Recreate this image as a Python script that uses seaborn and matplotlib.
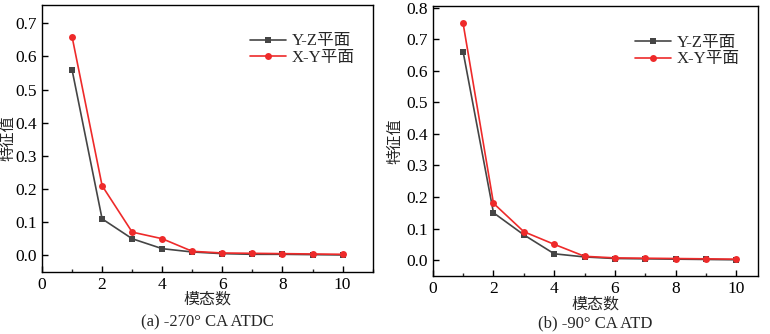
import numpy as np
import pandas as pd
import matplotlib
matplotlib.use("Agg")
import matplotlib.pyplot as plt
import seaborn as sns
from matplotlib.ticker import MultipleLocator

modes = list(range(1, 11))
yz_a = [0.56, 0.11, 0.05, 0.02, 0.010, 0.005, 0.003, 0.003, 0.002, 0.001]
xy_a = [0.66, 0.21, 0.07, 0.05, 0.012, 0.007, 0.006, 0.005, 0.004, 0.003]
yz_b = [0.66, 0.15, 0.08, 0.02, 0.010, 0.005, 0.004, 0.003, 0.002, 0.001]
xy_b = [0.75, 0.18, 0.09, 0.05, 0.012, 0.007, 0.006, 0.005, 0.004, 0.003]
captions = ["(a) -270° CA ATDC", "(b) -90° CA ATD"]

sns.set_style("ticks")
plt.rcParams['font.family'] = ['Liberation Serif', 'Noto Sans CJK SC']
plt.rcParams['xtick.direction'] = 'in'
plt.rcParams['ytick.direction'] = 'in'

fig = plt.figure(figsize=(7.7, 3.34), dpi=100)
ax1 = fig.add_axes([0.0545, 0.186, 0.4295, 0.799])
ax2 = fig.add_axes([0.562, 0.174, 0.422, 0.808])

# (axes, Y-Z, X-Y, y top, x right, ylabel x, xlabel y, caption y)
panels = [(ax1, yz_a, xy_a, 0.755, 11.0, -0.08, -0.075, -0.19),
          (ax2, yz_b, xy_b, 0.805, 10.7, -0.092, -0.078, -0.175)]
for i, (ax, yz, xy, ytop, xright, ylx, xly, capy) in enumerate(panels):
    df = pd.DataFrame({"模态数": modes * 2,
                       "特征值": yz + xy,
                       "平面": ["Y-Z平面"] * 10 + ["X-Y平面"] * 10})
    sns.lineplot(data=df, x="模态数", y="特征值", hue="平面", style="平面",
                 markers={"Y-Z平面": "s", "X-Y平面": "o"}, dashes=False,
                 palette={"Y-Z平面": "#454545", "X-Y平面": "#ee2a2a"},
                 markersize=5, linewidth=1.2, markeredgewidth=0, ax=ax)
    ax.set_xlim(0, xright)
    ax.set_ylim(-0.05, ytop)
    ax.xaxis.set_major_locator(MultipleLocator(2))
    ax.xaxis.set_minor_locator(MultipleLocator(1))
    ax.yaxis.set_major_locator(MultipleLocator(0.1))
    ax.tick_params(which='major', length=4, width=1, labelsize=12.5, colors='black')
    ax.tick_params(which='minor', length=2, width=1)
    for s in ax.spines.values():
        s.set_visible(True)
        s.set_linewidth(1)
        s.set_color('black')
    ax.set_xlabel("模态数", fontsize=11.5)
    ax.set_ylabel("特征值", fontsize=11)
    ax.xaxis.set_label_coords(0.5, xly)
    ax.yaxis.set_label_coords(ylx, 0.5)
    ax.legend(loc='upper right', bbox_to_anchor=(0.99, 0.95), frameon=False,
              fontsize=12, handlelength=2.2, handletextpad=0.3,
              labelspacing=0.05)
    ax.text(0.5, capy, captions[i], transform=ax.transAxes, ha='center',
            va='center', fontsize=12)

fig.savefig("out.png", dpi=100)
